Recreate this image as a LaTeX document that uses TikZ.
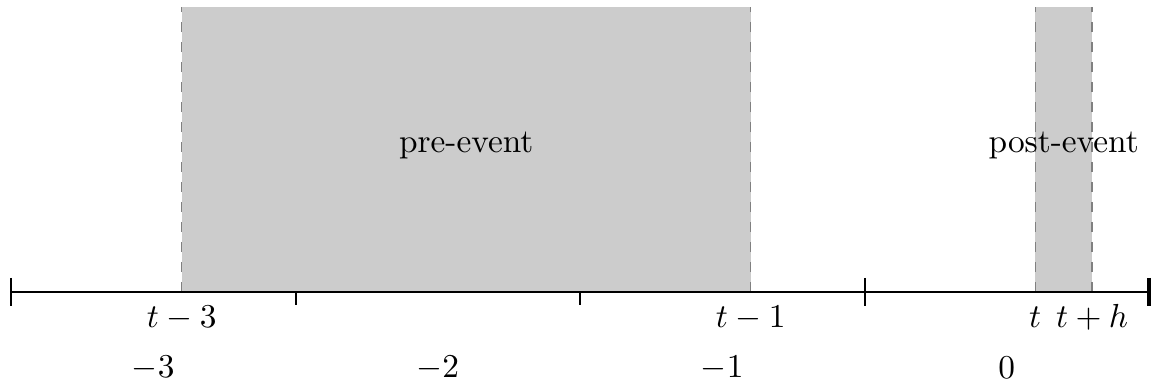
\documentclass[tikz,border=0pt]{standalone}
\usepackage{xcolor}
\usepackage{tikz}

\begin{document}
\begin{tikzpicture}[line width=0.6pt,
        window/.style={fill=gray!40, draw=none},
        border/.style={draw=gray, dashed, line width=0.4pt},
        timelabel/.style={below, text height=6.9pt, text depth=0.3pt}]
    \useasboundingbox (-0.116,-1.002) rectangle (12.021,3.079);

    % points on the time axis
    \coordinate (start) at (0,0);
    \coordinate (end) at (12,0);
    \coordinate (tm3) at (1.8,0);
    \coordinate (tm1) at (7.8,0);
    \coordinate (t) at (10.8,0);
    \coordinate (th) at (11.4,0);
    \coordinate (tm3top) at (1.8,3);
    \coordinate (tm1top) at (7.8,3);
    \coordinate (ttop) at (10.8,3);
    \coordinate (thtop) at (11.4,3);

    % event windows
    \fill[window] (tm3) rectangle (tm1top);
    \fill[window] (t) rectangle (thtop);
    \draw[border] (tm3) -- (tm3top);
    \draw[border] (tm1) -- (tm1top);
    \draw[border] (t) -- (ttop);
    \draw[border] (th) -- (thtop);

    \node (pre) at (4.8,1.55) {pre-event};
    \node (post) at (11.1,1.55) {post-event};

    % axis and ticks
    \draw (start) -- (end);
    \draw (0,0.15) -- (0,-0.15);
    \draw (9,0.15) -- (9,-0.15);
    \foreach \x in {3,6}
        \draw (\x,0) -- (\x,-0.14);
    \draw[line width=1.4pt] (12,0.15) -- (12,-0.15);

    \node[timelabel] (ltm3) at (tm3) {$t-3$};
    \node[timelabel] (ltm1) at (tm1) {$t-1$};
    \node[timelabel] (lt) at (t) {$t$};
    \node[timelabel] (lth) at (th) {$t+h$};

    \foreach \l [count=\i] in {-3,-2,-1,0}
        \node (year\i) at (3*\i-1.5,-0.8) {$\l$};
\end{tikzpicture}
\end{document}
